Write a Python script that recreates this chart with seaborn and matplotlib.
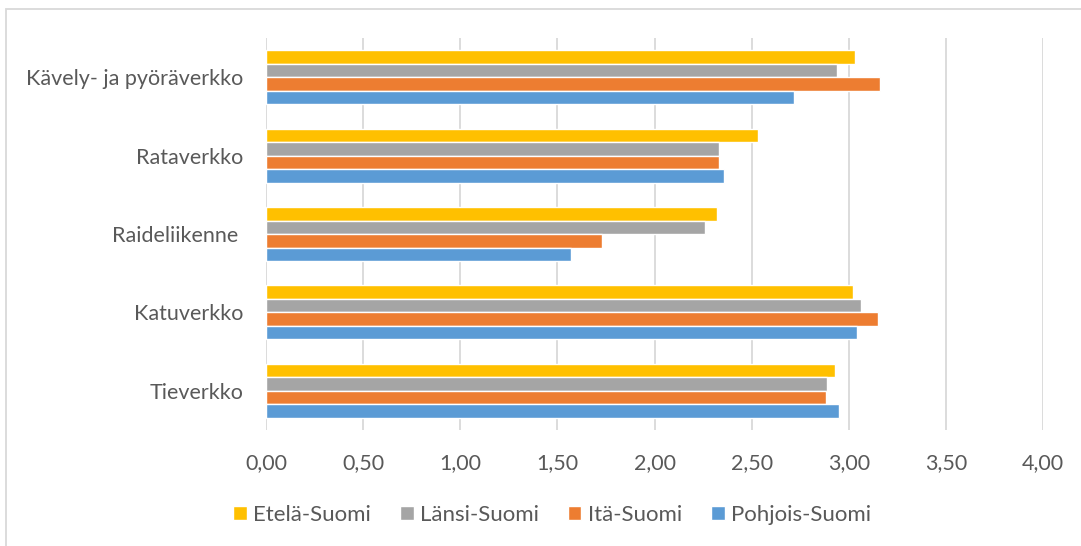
import pandas as pd
import matplotlib.pyplot as plt
import seaborn as sns
from matplotlib.patches import Patch, Rectangle
from matplotlib.ticker import FuncFormatter

categories = ['Kävely- ja pyöräverkko', 'Rataverkko', 'Raideliikenne ', 'Katuverkko', 'Tieverkko']
regions = ['Etelä-Suomi', 'Länsi-Suomi', 'Itä-Suomi', 'Pohjois-Suomi']
etela = [3.03, 2.53, 2.32, 3.02, 2.93]
lansi = [2.94, 2.33, 2.26, 3.06, 2.89]
ita = [3.16, 2.33, 1.73, 3.15, 2.88]
pohjois = [2.72, 2.36, 1.57, 3.04, 2.95]
colors = ['#FFC000', '#A5A5A5', '#ED7D31', '#5B9BD5']

rows = []
for reg, vals in zip(regions, [etela, lansi, ita, pohjois]):
    for cat, v in zip(categories, vals):
        rows.append({'kategoria': cat, 'alue': reg, 'arvo': v})
df = pd.DataFrame(rows)

sns.set_style('white')
plt.rcParams['font.family'] = ['Lato', 'DejaVu Sans']
txt = '#595959'

fig = plt.figure(figsize=(10.81, 5.46), dpi=100)
ax = fig.add_axes([0.246, 0.2125, 0.719, 0.7175])

sns.barplot(data=df, y='kategoria', x='arvo', hue='alue', order=categories,
            hue_order=regions, palette=colors, orient='h', width=0.69,
            saturation=1, legend=False, ax=ax)

ax.set_xlim(0, 4)
ax.set_xticks([i * 0.5 for i in range(9)])
ax.xaxis.set_major_formatter(FuncFormatter(lambda v, p: f'{v:.2f}'.replace('.', ',')))
ax.grid(axis='x', color='#D9D9D9', linewidth=1.3)
ax.set_axisbelow(True)
for s in ax.spines.values():
    s.set_visible(False)
ax.tick_params(axis='x', length=0, pad=17, labelsize=15.5, labelcolor=txt)
ax.tick_params(axis='y', length=0, pad=16, labelsize=15.5, labelcolor=txt)
ax.set_xlabel('')
ax.set_ylabel('')

handles = [Patch(facecolor=c, label=r) for c, r in zip(colors, regions)]
fig.legend(handles=handles, loc='center', bbox_to_anchor=(0.511, 0.057), ncol=4,
           frameon=False, fontsize=16, labelcolor=txt, handlelength=0.6,
           handleheight=0.6, handletextpad=0.3, columnspacing=1.3)

fig.patches.append(Rectangle((6 / 1081, -0.1), 1.2, 1 - 9 / 546 + 0.1,
                             transform=fig.transFigure, fill=False,
                             edgecolor='#D9D9D9', linewidth=1.3))

fig.savefig('out.png', dpi=100)
